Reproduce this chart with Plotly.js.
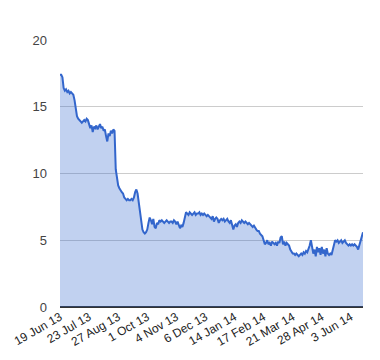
<!DOCTYPE html>
<html>
<head>
<meta charset="utf-8">
<script src="https://cdn.plot.ly/plotly-3.0.1.min.js"></script>
<style>html,body{margin:0;padding:0;background:#fff;}#chart{width:380px;height:360px;}</style>
</head>
<body>
<div id="chart"></div>
<script>
// Series values, one per trading day (index 0 = 19 Jun 13)
const values = [
17.4,17.4,17.2,16.4,16.2,16.3,16.1,16.2,16.0,16.1,
16.0,15.9,15.5,14.9,14.3,14.1,14.0,13.9,13.8,13.9,
14.0,13.9,14.1,14.0,13.6,13.4,13.6,13.1,13.5,13.4,
13.6,13.3,13.5,13.7,13.4,13.5,13.2,13.3,12.8,12.4,
13.0,12.8,13.2,13.0,13.3,13.2,10.3,9.6,9.1,8.9,
8.7,8.6,8.5,8.2,8.1,8.0,8.1,8.0,8.0,8.1,
8.0,8.2,8.6,8.8,8.5,7.8,7.0,6.4,5.8,5.6,
5.5,5.6,5.8,6.3,6.7,6.5,6.2,6.6,6.0,5.9,
6.3,6.2,6.5,6.4,6.5,6.4,6.3,6.4,6.5,6.4,
6.3,6.4,6.4,6.3,6.5,6.4,6.2,6.4,6.1,5.9,
6.1,6.0,6.3,6.8,7.1,7.0,6.9,7.1,7.0,6.9,
7.0,7.1,6.9,7.0,7.0,7.1,6.9,7.0,6.9,7.0,
6.9,6.8,6.9,6.8,6.7,6.6,6.8,6.4,6.6,6.7,
6.6,6.3,6.5,6.6,6.5,6.6,6.4,6.5,6.6,6.4,
6.3,6.5,6.2,5.8,6.1,6.2,6.0,6.3,6.4,6.3,
6.5,6.4,6.3,6.4,6.3,6.2,6.3,6.2,6.1,6.0,
6.1,5.9,5.8,5.7,5.7,5.5,5.4,5.3,5.0,4.7,
4.8,5.0,4.7,4.8,4.6,4.9,4.8,4.7,4.8,4.6,
4.9,4.8,5.2,5.3,4.7,4.9,4.6,4.8,4.7,4.6,
4.3,4.1,4.0,4.0,3.9,4.0,3.9,3.8,3.9,4.0,
3.9,4.1,4.0,4.2,4.1,4.3,4.6,5.0,4.4,4.0,
4.3,3.8,4.5,4.1,4.4,3.9,4.5,4.0,4.3,3.8,
4.4,4.0,3.9,4.0,3.9,4.3,4.7,5.0,4.9,5.0,
4.8,4.9,5.0,4.8,4.9,5.0,4.8,4.7,4.6,4.7,
4.6,4.7,4.6,4.7,4.6,4.5,4.3,4.6,5.0,5.3,
5.6
];
// Tick positions (trading-day index) and labels
const tickIndex = [0,24,48,72,96,120,144,168,192,216,240];
const tickLabels = ["19 Jun 13","23 Jul 13","27 Aug 13","1 Oct 13","4 Nov 13","6 Dec 13","14 Jan 14","17 Feb 14","21 Mar 14","28 Apr 14","3 Jun 14"];
const yTicks = [0,5,10,15,20];

const xs = values.map((v,i)=>i);

const trace = {
  x: xs, y: values, type: 'scatter', mode: 'lines',
  line: {color: '#3366cc', width: 2},
  fill: 'tozeroy', fillcolor: 'rgba(51,102,204,0.3)',
  hoverinfo: 'none'
};

const layout = {
  width: 380, height: 360,
  margin: {l: 60, r: 17, t: 40, b: 53},
  paper_bgcolor: '#fff', plot_bgcolor: '#fff',
  showlegend: false,
  font: {family: 'Arial, "Liberation Sans", sans-serif', color: '#444'},
  xaxis: {
    range: [0, values.length - 1],
    tickmode: 'array', tickvals: tickIndex, ticktext: tickLabels,
    tickangle: -30, showgrid: false, zeroline: false, showline: false,
    ticks: '', tickfont: {size: 12, color: '#222'}
  },
  yaxis: {
    range: [0, 20],
    tickmode: 'array', tickvals: yTicks,
    showgrid: true, gridcolor: '#cccccc', gridwidth: 1,
    zeroline: true, zerolinecolor: '#333', zerolinewidth: 2,
    showline: false, ticks: '', ticklabelstandoff: 12,
    tickfont: {size: 13, color: '#444'}
  }
};

Plotly.newPlot('chart', [trace], layout, {staticPlot: true, displayModeBar: false});
</script>
</body>
</html>
